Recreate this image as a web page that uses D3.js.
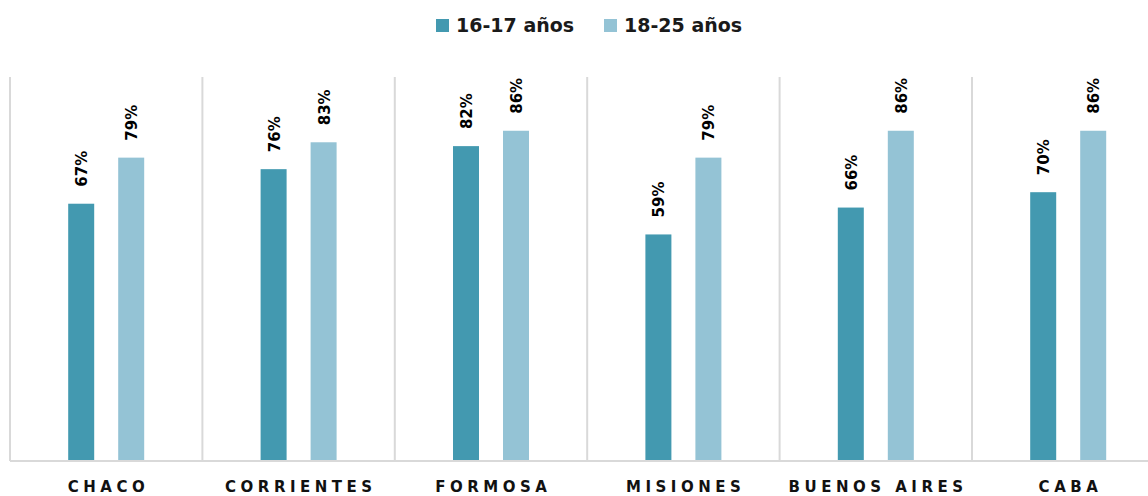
<!DOCTYPE html>
<html>
<head>
<meta charset="utf-8">
<script src="https://cdn.jsdelivr.net/npm/d3@7"></script>
<style>
  body { margin: 0; background: #fff; }
  svg { display: block; }
</style>
</head>
<body>
<div id="viz"></div>
<script>
const provincias = ["CHACO", "CORRIENTES", "FORMOSA", "MISIONES", "BUENOS AIRES", "CABA"];
const series = ["16-17 años", "18-25 años"];
const valores1617 = [67, 76, 82, 59, 66, 70];
const valores1825 = [79, 83, 86, 79, 86, 86];
const colores = ["#4399b0", "#94c3d5"];

const width = 1148,
  height = 496;

const margin = {top: 77, left: 10, bottom: 35};
const bandW = 192.4;

const datos = provincias.map((p, i) => ({
  provincia: p,
  valores: [valores1617[i], valores1825[i]]
}));

const svg = d3.select("#viz")
  .append("svg")
  .attr("width", width)
  .attr("height", height)
  .attr("viewBox", [0, 0, width, height]);

const x = d3.scaleBand()
  .domain(provincias)
  .range([margin.left, margin.left + bandW * provincias.length])
  .padding(0);

const xs = d3.scaleBand()
  .domain(series)
  .range([x.bandwidth() / 2 - 38, x.bandwidth() / 2 + 38])
  .paddingInner(0.48)
  .paddingOuter(0);

const y = d3.scaleLinear()
  .domain([0, 100])
  .range([height - margin.bottom, margin.top]);

// separadores verticales
svg.append("g")
  .selectAll("line")
  .data(provincias)
  .join("line")
  .attr("x1", d => x(d))
  .attr("x2", d => x(d))
  .attr("y1", y(100))
  .attr("y2", y(0))
  .attr("stroke", "#d9d9d9")
  .attr("stroke-width", 2);

const grupos = svg.append("g")
  .selectAll("g")
  .data(datos)
  .join("g")
  .attr("transform", d => `translate(${x(d.provincia)},0)`);

grupos.selectAll("rect")
  .data(d => d.valores.map((v, i) => ({serie: series[i], valor: v, i})))
  .join("rect")
  .attr("x", d => xs(d.serie))
  .attr("width", xs.bandwidth())
  .attr("y", d => y(d.valor))
  .attr("height", d => y(0) - y(d.valor))
  .attr("fill", d => colores[d.i]);

grupos.selectAll(".etiqueta")
  .data(d => d.valores.map((v, i) => ({serie: series[i], valor: v})))
  .join("text")
  .attr("class", "etiqueta")
  .attr("transform", d => `translate(${xs(d.serie) + xs.bandwidth() / 2 + 6},${y(d.valor) - 17}) rotate(-90)`)
  .attr("font-family", "DejaVu Sans")
  .attr("font-weight", "bold")
  .attr("font-size", 15)
  .attr("fill", "#000")
  .text(d => d.valor + "%");

// eje x
const gAxis = svg.append("g")
  .attr("transform", `translate(0,${y(0)})`)
  .call(d3.axisBottom(x).tickSize(0).tickPadding(0));

gAxis.select(".domain").remove();
gAxis.selectAll(".tick text")
  .attr("dy", 0)
  .attr("y", 31)
  .attr("font-family", "DejaVu Sans")
  .attr("font-weight", "bold")
  .attr("font-size", 15)
  .attr("letter-spacing", "4.5px")
  .attr("fill", "#111")
  .attr("dx", "2.25px");

svg.append("line")
  .attr("x1", margin.left)
  .attr("x2", width)
  .attr("y1", y(0))
  .attr("y2", y(0))
  .attr("stroke", "#d9d9d9")
  .attr("stroke-width", 2);

// leyenda
const legendX = [436, 604];
const leyenda = svg.append("g")
  .selectAll("g")
  .data(series)
  .join("g")
  .attr("transform", (d, i) => `translate(${legendX[i]},19)`);

leyenda.append("rect")
  .attr("width", 13)
  .attr("height", 13)
  .attr("fill", (d, i) => colores[i]);

leyenda.append("text")
  .attr("x", 20)
  .attr("y", 13)
  .attr("font-family", "DejaVu Sans")
  .attr("font-weight", "bold")
  .attr("font-size", 19)
  .attr("fill", "#1a1a1a")
  .text(d => d);
</script>
</body>
</html>
